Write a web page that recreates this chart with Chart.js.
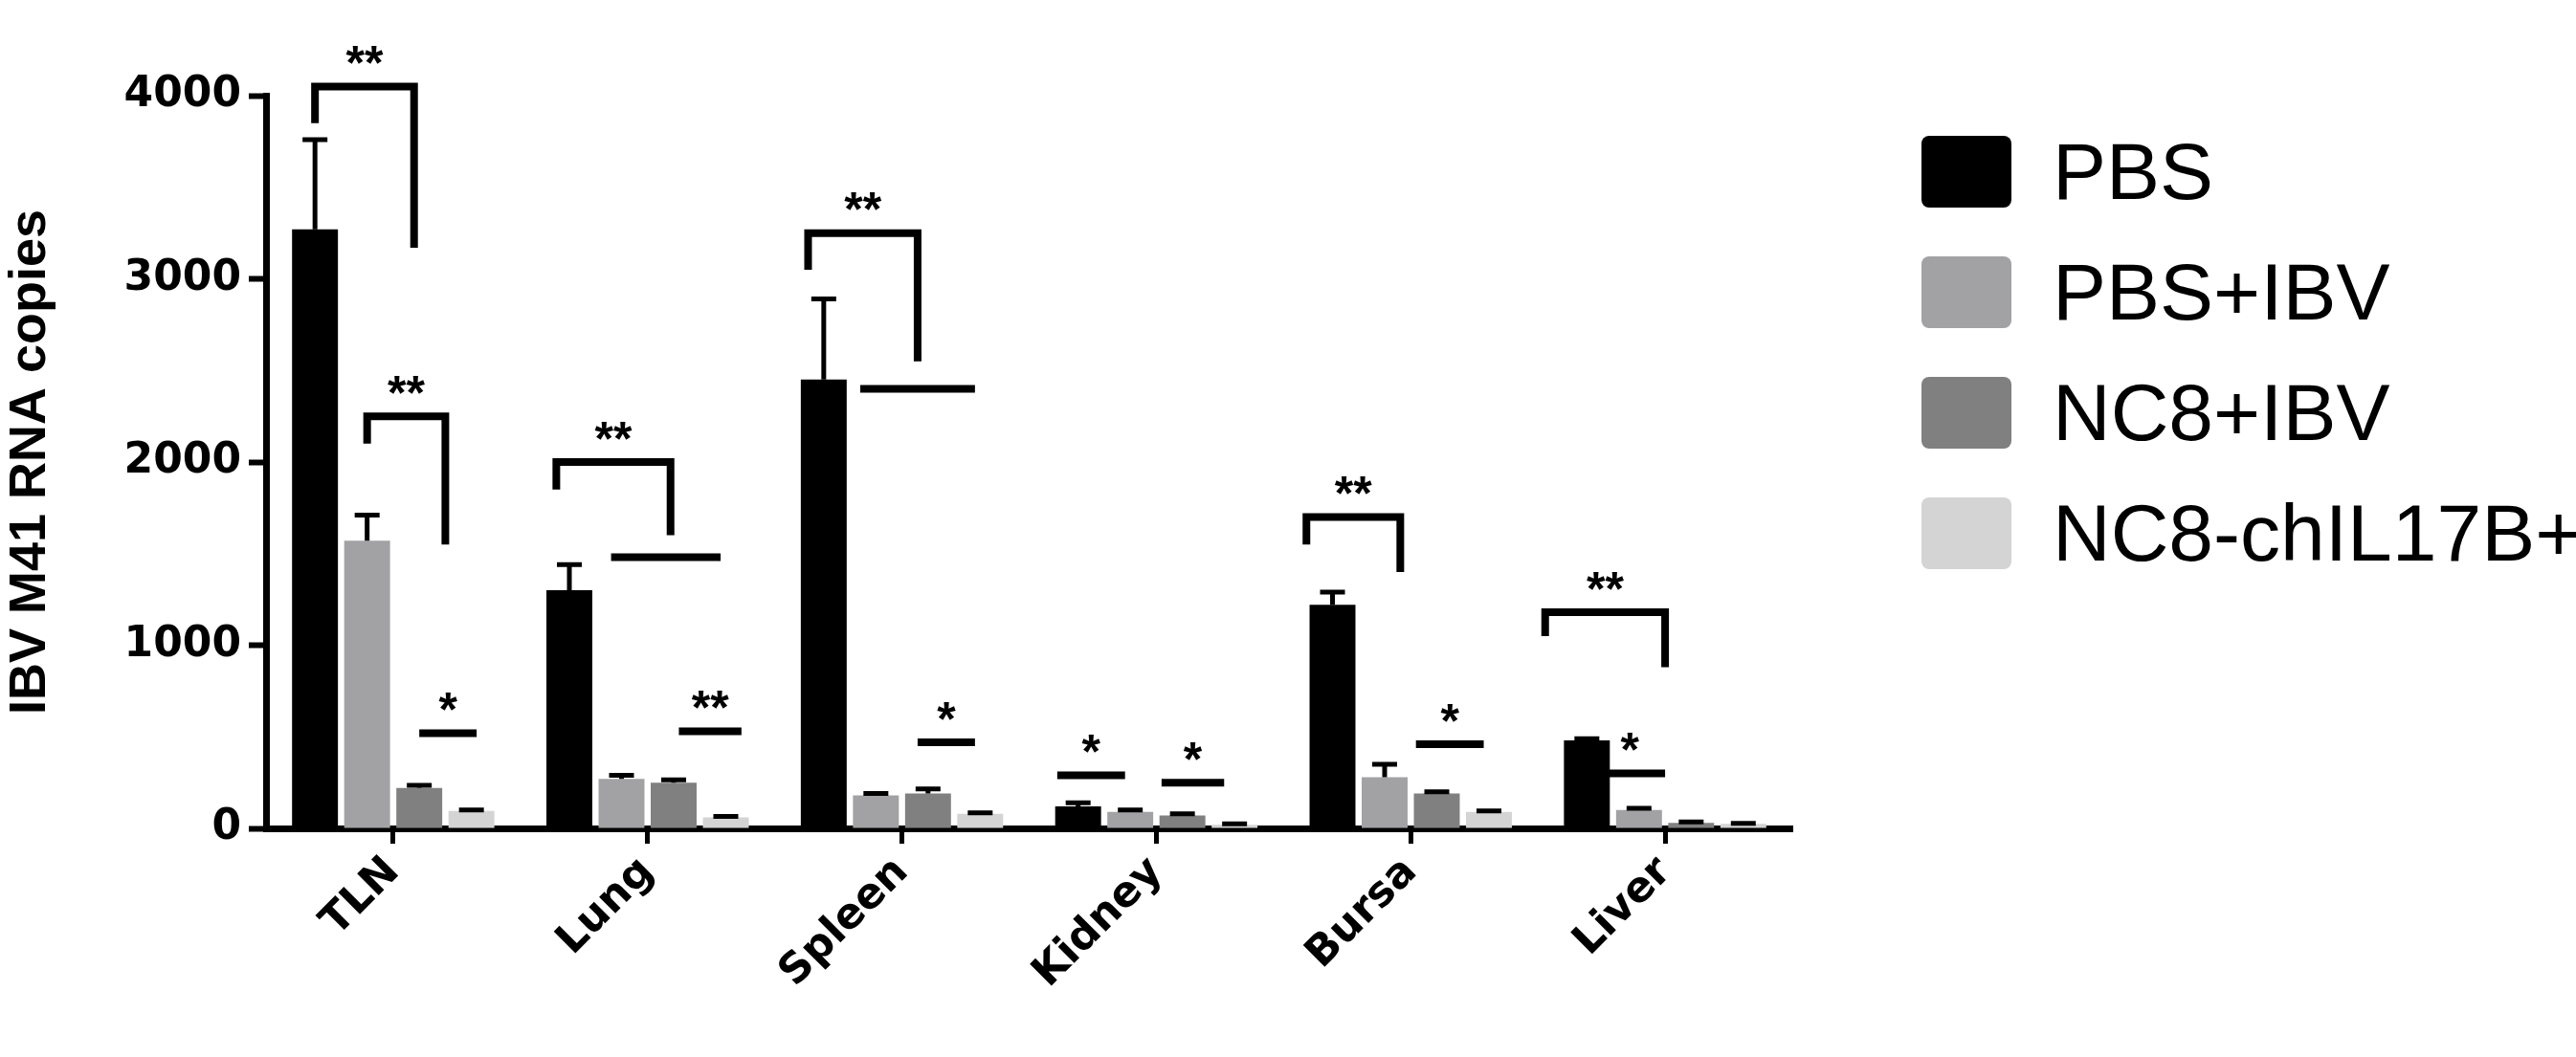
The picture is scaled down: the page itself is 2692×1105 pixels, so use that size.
<!DOCTYPE html>
<html>
<head>
<meta charset="utf-8">
<script src="https://cdn.jsdelivr.net/npm/chart.js@4"></script>
<style>
html,body{margin:0;padding:0;background:#fff;}
#wrap{position:relative;width:2692px;height:1105px;}
#legend{position:absolute;left:2008px;top:142px;font-family:"Liberation Sans Narrow","Liberation Sans",Arial,sans-serif;font-size:84px;color:#000;}
#legend .row{height:126px;display:flex;align-items:flex-start;}
#legend .box{width:94px;height:75px;border-radius:8px;margin-right:43px;}
#legend .txt{line-height:75px;white-space:nowrap;}
</style>
</head>
<body>
<div id="wrap"><canvas id="myChart"></canvas><div id="legend"></div></div>
<script>
var organs = ['TLN', 'Lung', 'Spleen', 'Kidney', 'Bursa', 'Liver'];
var groups = ['PBS', 'PBS+IBV', 'NC8+IBV', 'NC8-chIL17B+IBV'];
var colorHex = ['#000000', '#a2a2a5', '#808080', '#d4d4d4'];
var yTicks = [0, 1000, 2000, 3000, 4000];

var pbs       = [3270, 1300, 2450, 120, 1220, 480];
var pbsIbv    = [1570, 270, 180, 90, 280, 100];
var nc8Ibv    = [220, 250, 190, 70, 190, 30];
var nc8Il17b  = [95, 60, 80, 20, 90, 25];

// upper end of error bar
var pbsErr      = [3760, 1440, 2890, 140, 1290, 490];
var pbsIbvErr   = [1710, 290, 190, 100, 350, 110];
var nc8IbvErr   = [235, 265, 215, 80, 200, 35];
var nc8Il17bErr = [100, 65, 85, 25, 95, 28];

// brackets: [category, bar from, bar to, y top, y left end, y right end, label]
var brackets = [
  [0, 0, 1.9, 4050, 3850, 3170, '**'],
  [0, 1, 2.5, 2250, 2100, 1550, '**'],
  [0, 2, 3.1, 520, 520, 520, '*'],
  [1, -0.25, 1.94, 2000, 1850, 1600, '**'],
  [1, 0.8, 2.9, 1480, 1480, 1480, ''],
  [1, 2.1, 3.3, 530, 530, 530, '**'],
  [2, -0.3, 1.8, 3250, 3050, 2550, '**'],
  [2, 0.7, 2.9, 2400, 2400, 2400, ''],
  [2, 1.8, 2.9, 470, 470, 470, '*'],
  [3, -0.4, 0.9, 290, 290, 290, '*'],
  [3, 1.6, 2.8, 250, 250, 250, '*'],
  [4, -0.5, 1.3, 1700, 1550, 1400, '**'],
  [4, 1.6, 2.9, 460, 460, 460, '*'],
  [5, -0.8, 1.5, 1180, 1050, 880, '**'],
  [5, 0.15, 1.5, 300, 300, 300, '*']
];

var values = [pbs, pbsIbv, nc8Ibv, nc8Il17b];
var errs = [pbsErr, pbsIbvErr, nc8IbvErr, nc8Il17bErr];

// html legend
var leg = document.getElementById('legend');
groups.forEach(function (g, k) {
  var row = document.createElement('div');
  row.className = 'row';
  row.innerHTML = '<div class="box" style="background:' + colorHex[k] + '"></div><div class="txt">' + g + '</div>';
  leg.appendChild(row);
});

var extras = {
  id: 'extras',
  afterDatasetsDraw: function (chart) {
    var ctx = chart.ctx;
    var ys = chart.scales.y;
    ctx.save();
    ctx.strokeStyle = '#000';
    ctx.lineCap = 'butt';
    // error bars
    for (var d = 0; d < values.length; d++) {
      var meta = chart.getDatasetMeta(d);
      for (var i = 0; i < organs.length; i++) {
        var bar = meta.data[i];
        var yv = ys.getPixelForValue(values[d][i]);
        var ye = ys.getPixelForValue(errs[d][i]);
        ctx.lineWidth = 5;
        ctx.beginPath();
        ctx.moveTo(bar.x, yv); ctx.lineTo(bar.x, ye);
        ctx.moveTo(bar.x - 13, ye); ctx.lineTo(bar.x + 13, ye);
        ctx.stroke();
      }
    }
    // significance brackets
    var m0 = chart.getDatasetMeta(0), m1 = chart.getDatasetMeta(1);
    ctx.lineWidth = 8;
    ctx.fillStyle = '#000';
    ctx.font = 'bold 50px "Liberation Sans", Arial, sans-serif';
    ctx.textAlign = 'center';
    ctx.textBaseline = 'bottom';
    brackets.forEach(function (b) {
      var x0 = m0.data[b[0]].x;
      var sp = m1.data[b[0]].x - x0;
      var xa = x0 + b[1] * sp, xb = x0 + b[2] * sp;
      var yt = ys.getPixelForValue(b[3]);
      ctx.beginPath();
      ctx.moveTo(xa, ys.getPixelForValue(b[4]));
      ctx.lineTo(xa, yt);
      ctx.lineTo(xb, yt);
      ctx.lineTo(xb, ys.getPixelForValue(b[5]));
      ctx.stroke();
      if (b[6]) ctx.fillText(b[6], (xa + xb) / 2, yt + 4);
    });
    ctx.restore();
  }
};

var ctx = document.getElementById('myChart').getContext('2d');
var myChart = new Chart(ctx, {
  type: 'bar',
  data: {
    labels: organs,
    datasets: groups.map(function (g, k) {
      return {
        label: g,
        data: values[k],
        backgroundColor: colorHex[k],
        categoryPercentage: 0.82,
        barPercentage: 0.88
      };
    })
  },
  options: {
    responsive: true,
    maintainAspectRatio: false,
    animation: false,
    layout: { padding: { top: 100, left: 0, right: 819, bottom: 0 } },
    plugins: {
      legend: { display: false },
      tooltip: { enabled: false }
    },
    scales: {
      x: {
        afterFit: function (axis) { axis.height = 239; },
        grid: { display: true, offset: false, drawOnChartArea: false, drawTicks: true, tickLength: 16, tickWidth: 5, color: '#000' },
        border: { color: '#000', width: 7 },
        ticks: {
          color: '#000', maxRotation: 45, minRotation: 45, padding: 4,
          font: { size: 44, weight: 'bold', family: '"DejaVu Sans", sans-serif' }
        }
      },
      y: {
        min: 0, max: 4000,
        afterFit: function (axis) { axis.width = 278; },
        afterBuildTicks: function (axis) { axis.ticks = yTicks.map(function (v) { return { value: v }; }); },
        grid: { display: true, drawOnChartArea: false, drawTicks: true, tickLength: 18, tickWidth: 6, color: '#000' },
        border: { color: '#000', width: 7 },
        ticks: {
          color: '#000', padding: 8,
          callback: function (v) { return String(v); },
          font: { size: 44, weight: 'bold', family: '"DejaVu Sans", sans-serif' }
        },
        title: {
          display: true, text: 'IBV M41 RNA copies', color: '#000', padding: 0,
          font: { size: 54, weight: 'bold', family: '"Liberation Sans", Arial, sans-serif' }
        }
      }
    }
  },
  plugins: [extras]
});
</script>
</body>
</html>
